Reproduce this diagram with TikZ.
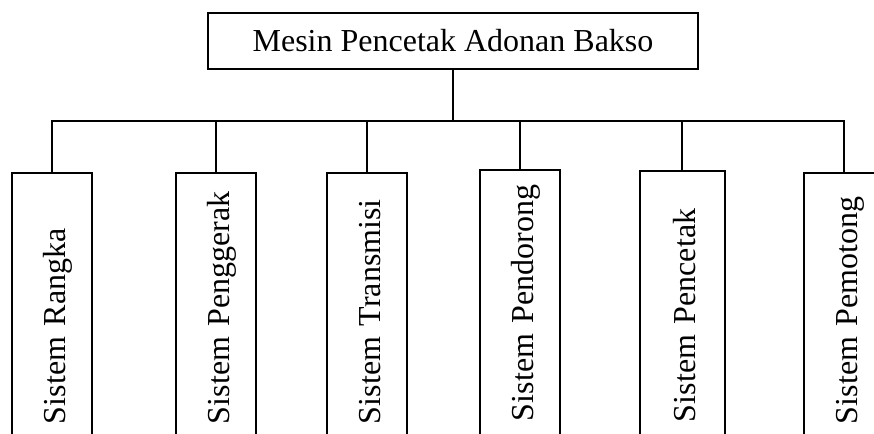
\documentclass[tikz,border=0pt]{standalone}
\usepackage{fontspec}
\setmainfont{Liberation Serif}
\usepackage{tikz}

\tikzset{
  mainbox/.style={draw, minimum width=245pt, minimum height=28pt, inner sep=0pt,
    font=\fontsize{16}{19}\selectfont},
  sysbox/.style={draw, rotate=90, anchor=east, minimum height=40pt,
    text width=117.5pt, align=left, inner xsep=8pt, inner ysep=0pt,
    text height=15pt, text depth=2pt, font=\fontsize{16}{19}\selectfont}
}

\begin{document}
\begin{tikzpicture}[x=0.5pt,y=0.5pt,line width=1pt]
\useasboundingbox (0,0) rectangle (874,-434);
\clip (0,0) rectangle (874,-434);
\node[mainbox] (mesin) at (453,-41) {Mesin Pencetak Adonan Bakso};
\coordinate (bus) at (453,-121);
\draw (mesin.south) -- (bus);
\foreach \n/\x/\y/\w/\t in {rangka/52/-172/40pt/Sistem Rangka,
    penggerak/216/-172/40pt/Sistem Penggerak,
    transmisi/367/-172/40pt/Sistem Transmisi,
    pendorong/520/-169/40pt/Sistem Pendorong,
    pencetak/682/-170/42.5pt/Sistem Pencetak,
    pemotong/844/-172/40pt/Sistem Pemotong}
   \node[sysbox, minimum height=\w] (\n) at (\x,\y) {\mbox{\t}};
\foreach \n in {rangka,penggerak,transmisi,pendorong,pencetak,pemotong}
   \draw (\n.east) |- (bus);
\end{tikzpicture}
\end{document}
